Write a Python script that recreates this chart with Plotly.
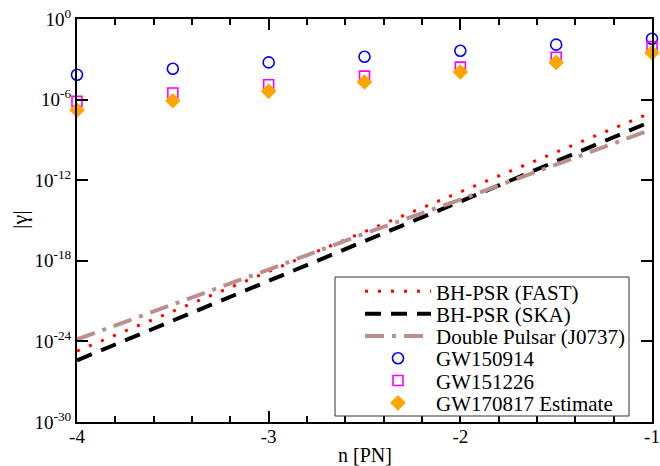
import plotly.graph_objects as go

# PN order
n_line = [-4, -3, -2.5, -2, -1]
# log10 |gamma|
fast_log = [-24.72, -18.78, -15.82, -12.87, -6.95]
ska_log = [-25.41, -19.45, -16.54, -13.59, -7.60]
dp_log = [-23.85, -18.65, -15.97, -13.44, -8.22]

n_pts = [-4, -3.5, -3, -2.5, -2, -1.5, -1]
gw150914_log = [-4.15, -3.70, -3.23, -2.81, -2.36, -1.91, -1.47]
gw151226_log = [-6.13, -5.51, -4.90, -4.25, -3.58, -2.85, -2.06]
gw170817_log = [-6.78, -6.09, -5.37, -4.69, -3.95, -3.23, -2.51]

y_tick_exp = [0, -6, -12, -18, -24, -30]
x_tick_vals = [-4, -3, -2, -1]
x_tick_text = ["-4", "-3", "-2", "-1"]

def p10(arr):
    return [10 ** v for v in arr]

FONT = "Liberation Serif"
W, H = 660, 466
# plot area in page pixels
P_LEFT, P_RIGHT, P_TOP, P_BOTTOM = 77, 652, 19, 422
ML, MR, MT, MB = P_LEFT, W - P_RIGHT, P_TOP, H - P_BOTTOM
PW, PH = P_RIGHT - P_LEFT, P_BOTTOM - P_TOP

def px2x(px):
    return (px - P_LEFT) / PW

def py2y(py):
    return (P_BOTTOM - py) / PH

fig = go.Figure()
fig.add_trace(go.Scatter(x=n_line, y=p10(fast_log), mode="lines", name="BH-PSR (FAST)", legend="legend",
                         line=dict(color="#FF0000", width=3, dash="3px,10px")))
fig.add_trace(go.Scatter(x=n_line, y=p10(ska_log), mode="lines", name="BH-PSR (SKA)", legend="legend2",
                         line=dict(color="#000000", width=4, dash="16px,10px")))
fig.add_trace(go.Scatter(x=n_line, y=p10(dp_log), mode="lines", name="Double Pulsar (J0737)", legend="legend3",
                         line=dict(color="#BC8F8F", width=4, dash="19px,8px,4px,8px")))
fig.add_trace(go.Scatter(x=n_pts, y=p10(gw150914_log), mode="markers", name="GW150914", legend="legend4",
                         cliponaxis=False,
                         marker=dict(symbol="circle-open", size=11, color="#0000FF",
                                     line=dict(width=1.6, color="#0000FF"))))
fig.add_trace(go.Scatter(x=n_pts, y=p10(gw151226_log), mode="markers", name="GW151226", legend="legend5",
                         cliponaxis=False,
                         marker=dict(symbol="square-open", size=10, color="#FF00FF",
                                     line=dict(width=1.6, color="#FF00FF"))))
fig.add_trace(go.Scatter(x=n_pts, y=p10(gw170817_log), mode="markers", name="GW170817 Estimate", legend="legend6",
                         cliponaxis=False,
                         marker=dict(symbol="diamond", size=12, color="#FFA500",
                                     line=dict(width=0))))

row_centers = [291.7, 314.0, 336.3, 358.6, 380.9, 403.2]
legends = {}
for i, yc in enumerate(row_centers):
    key = "legend" if i == 0 else "legend%d" % (i + 1)
    legends[key] = dict(x=px2x(360), y=py2y(yc), xanchor="left", yanchor="middle",
                        bgcolor="rgba(0,0,0,0)", borderwidth=0, itemwidth=66,
                        font=dict(family=FONT, size=21, color="black"))

fig.update_layout(
    width=W, height=H,
    margin=dict(l=ML, r=MR, t=MT, b=MB, autoexpand=False),
    paper_bgcolor="white", plot_bgcolor="white",
    font=dict(family=FONT, size=19, color="black"),
    showlegend=True,
    **legends,
    shapes=[dict(type="rect", xref="paper", yref="paper",
                 x0=px2x(335), x1=px2x(629), y0=py2y(416), y1=py2y(277),
                 fillcolor="white", line=dict(color="#333333", width=1), layer="above")],
    annotations=[
        dict(text="n [PN]", xref="paper", yref="paper", x=0.5, y=py2y(455),
             xanchor="center", yanchor="middle", showarrow=False,
             font=dict(family=FONT, size=20, color="black")),
        dict(text="|γ|", xref="paper", yref="paper", x=px2x(19), y=py2y(220),
             xanchor="center", yanchor="middle", showarrow=False, textangle=-90,
             font=dict(family=FONT, size=22, color="black")),
    ],
)
fig.update_xaxes(range=[-4, -1], tickvals=x_tick_vals, ticktext=x_tick_text,
                 ticks="inside", ticklen=11, tickwidth=1.5, tickcolor="black",
                 showline=True, linecolor="black", linewidth=2, mirror="ticks",
                 showgrid=False, zeroline=False, ticklabeloverflow="allow",
                 ticklabelstandoff=-4, automargin=False,
                 minor=dict(dtick=0.2, ticks="inside", ticklen=6, tickwidth=1.5, tickcolor="black", showgrid=False),
                 tickfont=dict(size=19))
fig.update_yaxes(type="log", range=[-30, 0],
                 tickvals=[10 ** e for e in y_tick_exp],
                 ticktext=["10<sup>%d</sup>" % e for e in y_tick_exp],
                 ticks="inside", ticklen=11, tickwidth=1.5, tickcolor="black",
                 showline=True, linecolor="black", linewidth=2, mirror="ticks",
                 showgrid=False, zeroline=False, ticklabeloverflow="allow",
                 automargin=False,
                 tickfont=dict(size=19))

fig.write_html(
    "out.html",
    config={"displayModeBar": False},
    post_script="document.body.style.margin='0px';document.documentElement.style.overflow='hidden';",
)
